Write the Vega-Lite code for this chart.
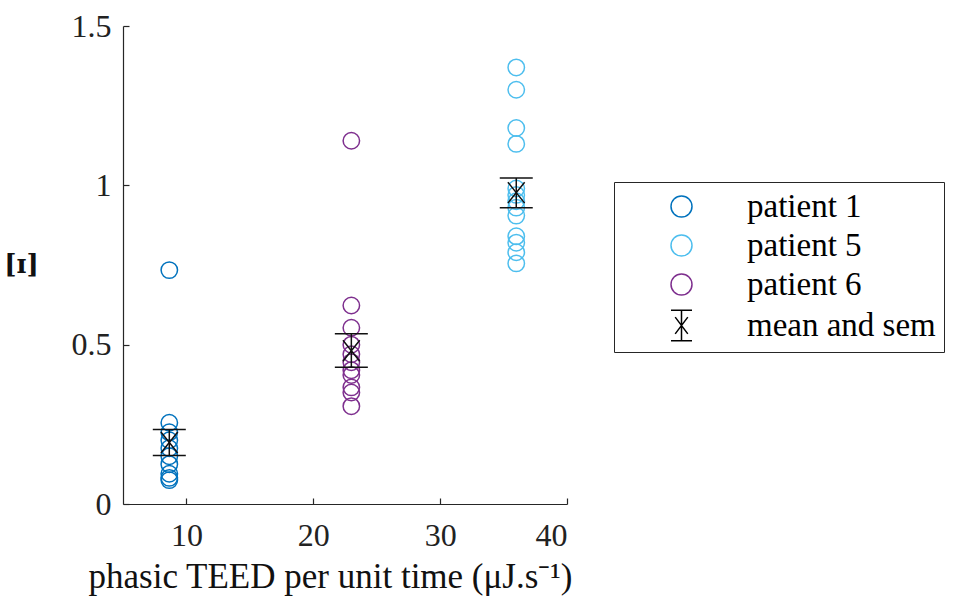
{
  "$schema": "https://vega.github.io/schema/vega-lite/v6.json",
  "width": 444,
  "height": 478,
  "autosize": {"type": "none"},
  "padding": {"left": 123, "top": 26, "right": 399, "bottom": 106},
  "background": "white",
  "config": {"view": {"stroke": null}, "font": "Liberation Serif"},
  "datasets": {
    "pts": [
      {"patient": "patient 1", "teed": 8.65, "value": 0.734},
      {"patient": "patient 1", "teed": 8.65, "value": 0.255},
      {"patient": "patient 1", "teed": 8.65, "value": 0.225},
      {"patient": "patient 1", "teed": 8.65, "value": 0.2},
      {"patient": "patient 1", "teed": 8.65, "value": 0.175},
      {"patient": "patient 1", "teed": 8.65, "value": 0.15},
      {"patient": "patient 1", "teed": 8.65, "value": 0.125},
      {"patient": "patient 1", "teed": 8.65, "value": 0.095},
      {"patient": "patient 1", "teed": 8.65, "value": 0.082},
      {"patient": "patient 1", "teed": 8.65, "value": 0.075},
      {"patient": "patient 5", "teed": 36.0, "value": 1.37},
      {"patient": "patient 5", "teed": 36.0, "value": 1.3},
      {"patient": "patient 5", "teed": 36.0, "value": 1.18},
      {"patient": "patient 5", "teed": 36.0, "value": 1.13},
      {"patient": "patient 5", "teed": 36.0, "value": 0.99},
      {"patient": "patient 5", "teed": 36.0, "value": 0.97},
      {"patient": "patient 5", "teed": 36.0, "value": 0.95},
      {"patient": "patient 5", "teed": 36.0, "value": 0.93},
      {"patient": "patient 5", "teed": 36.0, "value": 0.905},
      {"patient": "patient 5", "teed": 36.0, "value": 0.84},
      {"patient": "patient 5", "teed": 36.0, "value": 0.82},
      {"patient": "patient 5", "teed": 36.0, "value": 0.79},
      {"patient": "patient 5", "teed": 36.0, "value": 0.755},
      {"patient": "patient 6", "teed": 23.0, "value": 1.14},
      {"patient": "patient 6", "teed": 23.0, "value": 0.623},
      {"patient": "patient 6", "teed": 23.0, "value": 0.553},
      {"patient": "patient 6", "teed": 23.0, "value": 0.5},
      {"patient": "patient 6", "teed": 23.0, "value": 0.47},
      {"patient": "patient 6", "teed": 23.0, "value": 0.445},
      {"patient": "patient 6", "teed": 23.0, "value": 0.42},
      {"patient": "patient 6", "teed": 23.0, "value": 0.405},
      {"patient": "patient 6", "teed": 23.0, "value": 0.366},
      {"patient": "patient 6", "teed": 23.0, "value": 0.35},
      {"patient": "patient 6", "teed": 23.0, "value": 0.307}
    ],
    "means": [
      {"teed": 8.65, "mean": 0.193, "lo": 0.152, "hi": 0.234},
      {"teed": 23.0, "mean": 0.481, "lo": 0.429, "hi": 0.534},
      {"teed": 36.0, "mean": 0.977, "lo": 0.93, "hi": 1.023}
    ]
  },
  "layer": [
    {
      "data": {"name": "pts"},
      "mark": {"type": "point", "filled": false, "strokeWidth": 1.5, "size": 270, "opacity": 1},
      "encoding": {
        "x": {
          "field": "teed", "type": "quantitative",
          "scale": {"domain": [5, 40], "nice": false, "zero": false},
          "axis": {
            "values": [10, 20, 30, 40],
            "grid": false,
            "title": "phasic TEED per unit time (μJ.s⁻¹)",
            "titleFont": "Liberation Serif",
            "titleFontSize": 35,
            "titleFontWeight": "normal",
            "titleColor": "#111111",
            "titleX": 207,
            "titleY": 83,
            "titleAlign": "center",
            "titleBaseline": "alphabetic",
            "domainColor": "#262626",
            "domainWidth": 1.2,
            "tickColor": "#262626",
            "tickSize": -6,
            "tickWidth": 1.2,
            "labelFont": "Liberation Serif",
            "labelFontSize": 32,
            "labelColor": "#222222",
            "labelPadding": 22,
            "format": "~g"
          }
        },
        "y": {
          "field": "value", "type": "quantitative",
          "scale": {"domain": [0, 1.5], "nice": false, "zero": false},
          "axis": {
            "values": [0, 0.5, 1, 1.5],
            "grid": false,
            "title": "[ɪ]",
            "titleFont": "DejaVu Serif",
            "titleFontSize": 26,
            "titleFontWeight": "bold",
            "titleColor": "#111111",
            "titleAngle": 0,
            "titleX": -102,
            "titleY": 238,
            "titleAlign": "center",
            "titleBaseline": "middle",
            "domainColor": "#262626",
            "domainWidth": 1.2,
            "tickColor": "#262626",
            "tickSize": -6,
            "tickWidth": 1.2,
            "labelFont": "Liberation Serif",
            "labelFontSize": 32,
            "labelColor": "#222222",
            "labelPadding": 18,
            "format": "~g"
          }
        },
        "color": {
          "field": "patient", "type": "nominal",
          "scale": {
            "domain": ["patient 1", "patient 5", "patient 6", "mean and sem"],
            "range": ["#0072BD", "#4DBEEE", "#7E2F8E", "#000000"]
          },
          "legend": {
            "title": null,
            "orient": "none",
            "legendX": 491,
            "legendY": 156,
            "strokeColor": "#262626",
            "fillColor": "white",
            "padding": 8,
            "symbolOffset": 43,
            "labelOffset": 49,
            "labelFont": "Liberation Serif",
            "labelFontSize": 33,
            "labelColor": "#000000",
            "labelLimit": 400,
            "symbolSize": 441,
            "symbolStrokeWidth": 1.5,
            "rowPadding": 5
          }
        },
        "shape": {
          "field": "patient", "type": "nominal",
          "scale": {
            "domain": ["patient 1", "patient 5", "patient 6", "mean and sem"],
            "range": ["circle", "circle", "circle", "M-1,-1.45H1M0,-1.45V1.45M-1,1.45H1M-0.6,-0.8L0.6,0.8M-0.6,0.8L0.6,-0.8"]
          }
        }
      }
    },
    {
      "data": {"name": "means"},
      "mark": {"type": "rule", "color": "#111111", "strokeWidth": 1.5},
      "encoding": {
        "x": {"field": "teed", "type": "quantitative"},
        "y": {"field": "lo", "type": "quantitative"},
        "y2": {"field": "hi"}
      }
    },
    {
      "data": {"name": "means"},
      "mark": {"type": "tick", "orient": "horizontal", "size": 33, "thickness": 1.5, "color": "#111111", "opacity": 1},
      "encoding": {
        "x": {"field": "teed", "type": "quantitative"},
        "y": {"field": "lo", "type": "quantitative"}
      }
    },
    {
      "data": {"name": "means"},
      "mark": {"type": "tick", "orient": "horizontal", "size": 33, "thickness": 1.5, "color": "#111111", "opacity": 1},
      "encoding": {
        "x": {"field": "teed", "type": "quantitative"},
        "y": {"field": "hi", "type": "quantitative"}
      }
    },
    {
      "data": {"name": "means"},
      "mark": {"type": "point", "shape": "M-0.8,-1L0.8,1M-0.8,1L0.8,-1", "size": 440, "filled": false, "stroke": "#111111", "strokeWidth": 1.5, "opacity": 1},
      "encoding": {
        "x": {"field": "teed", "type": "quantitative"},
        "y": {"field": "mean", "type": "quantitative"}
      }
    }
  ]
}
